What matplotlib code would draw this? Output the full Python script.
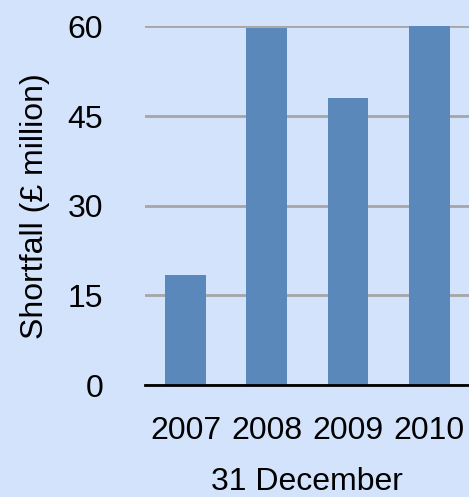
import matplotlib.pyplot as plt

# data
years = ["2007", "2008", "2009", "2010"]
shortfall = [18.4, 59.7, 48.0, 60.0]
y_ticks = [0, 15, 30, 45, 60]

bg = "#d4e3fc"
bar_color = "#5b88ba"

plt.rcParams["font.family"] = ["Liberation Sans", "DejaVu Sans"]

fig = plt.figure(figsize=(4.69, 4.97), dpi=100, facecolor=bg)
ax = fig.add_axes([0.309, 0.225, 0.693, 0.722], facecolor=bg)

ax.bar(range(len(years)), shortfall, width=0.5, color=bar_color, zorder=2)

ax.set_xlim(-0.5, 3.5)
ax.set_ylim(0, 60)
ax.set_yticks(y_ticks)
ax.set_xticks(range(len(years)))
ax.set_xticklabels(years)

# gridlines
ax.yaxis.grid(True, color="#a6a6a6", linewidth=2, zorder=1)
ax.set_axisbelow(True)

for side in ["top", "right", "left"]:
    ax.spines[side].set_visible(False)
ax.spines["bottom"].set_linewidth(2)
ax.spines["bottom"].set_color("black")
ax.spines["bottom"].set_zorder(3)

ax.tick_params(axis="both", length=0, labelsize=23)
ax.tick_params(axis="y", pad=30)
ax.tick_params(axis="x", pad=22)

ax.set_ylabel("Shortfall (£ million)", fontsize=23, labelpad=13)
ax.set_xlabel("31 December", fontsize=23, labelpad=15)

fig.savefig("out.png", dpi=100, facecolor=bg)
